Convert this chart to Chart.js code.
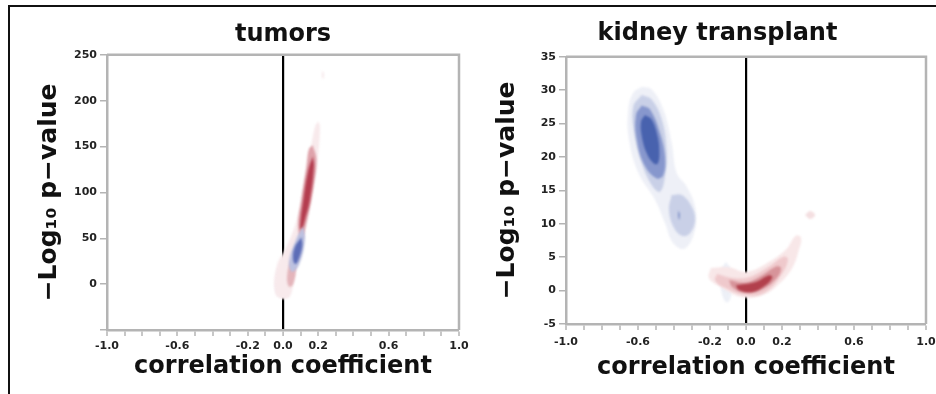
<!DOCTYPE html>
<html>
<head>
<meta charset="utf-8">
<script src="https://cdn.jsdelivr.net/npm/chart.js@4.4.1/dist/chart.umd.min.js"></script>
<style>
  html, body { margin: 0; padding: 0; background: #fff; overflow: hidden; }
  #frame { position: absolute; left: 8px; top: 5px; width: 940px; height: 400px;
           border-left: 2px solid #111; border-top: 2px solid #111; }
  canvas { position: absolute; top: 8px; }
  #tumors { left: 10px; }
  #kidney { left: 468px; }
</style>
</head>
<body>
<div id="frame"></div>
<canvas id="tumors" width="480" height="386"></canvas>
<canvas id="kidney" width="480" height="386"></canvas>
<script>
// tick labels
const xTickLabels = [-1.0, -0.6, -0.2, 0.0, 0.2, 0.6, 1.0];
const tumorsYTicks = [0, 50, 100, 150, 200, 250];
const kidneyYTicks = [-5, 0, 5, 10, 15, 20, 25, 30, 35];

// density contours, [correlation, -log10 p]
const tumorsLavender = [[-0.028, 19.1], [0.017, 18.0], [0.034, -6.0], [0.0, -14.7], [-0.040, -8.2], [-0.040, 7.1]];
const tumorsRedFaint = [[0.201, 177.3], [0.210, 171.9], [0.201, 143.2], [0.182, 117.4], [0.144, 73.9], [0.106, 41.2],
  [0.068, 12.5], [0.040, -13.3], [-0.006, -15.8], [-0.045, -9.3], [-0.036, 19.4], [0.021, 41.2],
  [0.078, 70.3], [0.115, 106.5], [0.153, 142.9], [0.182, 171.9]];
const tumorsRedMid = [[0.169, 151.5], [0.190, 136.0], [0.174, 106.5], [0.137, 70.3], [0.106, 50.5],
  [0.085, 63.0], [0.104, 92.0], [0.133, 128.3], [0.148, 147.5]];
const tumorsRedCore = [[0.169, 139.2], [0.176, 128.3], [0.153, 92.0], [0.125, 70.3], [0.106, 59.4],
  [0.097, 63.0], [0.115, 92.0], [0.144, 124.7]];
const tumorsRedLow = [[0.057, 26.7], [0.074, 18.0], [0.057, -0.5], [0.034, -2.7], [0.023, 7.1], [0.040, 23.4]];
const tumorsBlueHalo = [[0.115, 63.0], [0.125, 48.5], [0.091, 21.2], [0.051, 13.6], [0.034, 24.5], [0.074, 48.5]];
const tumorsBlueCore = [[0.104, 51.0], [0.110, 42.0], [0.086, 25.5], [0.070, 22.0], [0.057, 27.5], [0.066, 40.0]];
const tumorsSpeck = [[0.224, 232], [0.230, 231], [0.230, 224], [0.224, 225]];

const kidneyBlueFaint = [[-0.579, 30.5], [-0.524, 30.1], [-0.459, 27.1], [-0.413, 22.1], [-0.385, 17.6],
  [-0.330, 15.6], [-0.283, 12.6], [-0.283, 9.1], [-0.339, 6.3], [-0.404, 7.1], [-0.450, 10.1],
  [-0.506, 13.6], [-0.598, 17.6], [-0.650, 22.6], [-0.654, 27.1], [-0.626, 29.6]];
const kidneyBlueLight = [[-0.579, 29.3], [-0.524, 28.6], [-0.468, 25.6], [-0.441, 21.1], [-0.450, 17.1],
  [-0.478, 14.8], [-0.524, 15.8], [-0.579, 19.1], [-0.621, 23.6], [-0.626, 27.6]];
const kidneyBlueLobe = [[-0.413, 14.3], [-0.357, 14.3], [-0.302, 12.6], [-0.283, 10.6], [-0.311, 8.6],
  [-0.357, 8.2], [-0.404, 9.6], [-0.428, 12.1]];
const kidneyBlueMid = [[-0.579, 27.7], [-0.533, 27.1], [-0.478, 23.6], [-0.450, 20.1], [-0.459, 17.3],
  [-0.496, 16.8], [-0.561, 18.6], [-0.607, 22.6], [-0.611, 26.3]];
const kidneyBlueCore = [[-0.561, 26.3], [-0.524, 25.6], [-0.491, 23.1], [-0.481, 20.6], [-0.491, 19.0],
  [-0.515, 19.1], [-0.552, 20.6], [-0.579, 23.1], [-0.583, 25.3]];
const kidneyBlueSpeck = [[-0.374, 12.0], [-0.369, 11.5], [-0.371, 10.6], [-0.376, 11.2]];
const kidneyBlueSmall = [[-0.111, 4.3], [-0.088, 3.4], [-0.075, 1.3], [-0.083, -0.9], [-0.105, -1.8],
  [-0.130, -0.9], [-0.142, 1.3], [-0.133, 3.4]];
const kidneyRedFaint = [[-0.196, 3.4], [-0.094, 3.5], [-0.002, 2.8], [0.109, 4.0], [0.221, 6.1], [0.276, 8.2],
  [0.306, 7.9], [0.294, 6.1], [0.257, 3.4], [0.183, 1.0], [0.091, -0.7], [-0.021, -1.0],
  [-0.150, 0.7], [-0.206, 1.9]];
const kidneyRedLight = [[-0.161, 2.5], [-0.076, 1.9], [0.017, 2.0], [0.128, 3.6], [0.211, 5.1], [0.233, 4.7],
  [0.202, 2.6], [0.109, -0.2], [-0.002, -0.7], [-0.132, 0.6], [-0.172, 1.6]];
const kidneyRedMid = [[-0.094, 1.6], [-0.002, 1.2], [0.091, 2.3], [0.167, 3.6], [0.194, 3.4], [0.174, 2.0],
  [0.091, 0.2], [-0.002, -0.3], [-0.076, 0.5]];
const kidneyRedCore = [[-0.056, 0.8], [0.054, 1.3], [0.128, 2.3], [0.146, 2.0], [0.109, 0.8], [0.035, -0.2],
  [-0.039, 0.1]];
const kidneyRedDot = [[0.328, 11.3], [0.356, 11.9], [0.384, 11.3], [0.356, 10.7]];

const FONT = "'DejaVu Sans', Verdana, sans-serif";
const GRAY = '#b4b4b4';
Chart.defaults.font.family = FONT;

function blob(points, color) {
  const closed = points.concat([points[0]]);
  return {
    data: closed.map(p => ({ x: p[0], y: p[1] })),
    backgroundColor: color,
    borderWidth: 0,
    pointRadius: 0,
    fill: 'shape',
    tension: 0.4
  };
}

// soften contour edges like the original rendering
const softEdges = {
  id: 'softEdges',
  beforeDatasetsDraw(chart, args, opts) { chart.ctx.save(); chart.ctx.filter = 'blur(' + opts.blur + 'px)'; },
  afterDatasetsDraw(chart) { chart.ctx.restore(); }
};

// top and right sides of the plot box
const frameBox = {
  id: 'frameBox',
  afterDraw(chart) {
    const { ctx, chartArea: a } = chart;
    ctx.save();
    ctx.strokeStyle = GRAY;
    ctx.lineWidth = 2.5;
    ctx.beginPath();
    ctx.moveTo(a.left, a.top);
    ctx.lineTo(a.right, a.top);
    ctx.lineTo(a.right, a.bottom);
    ctx.stroke();
    ctx.restore();
  }
};

function xLabel(v) {
  const k = Math.round(v * 10);
  if (!xTickLabels.some(t => Math.round(t * 10) === k)) return '';
  return (k < 0 ? '-' : '') + Math.abs(k / 10).toFixed(1);
}

function makeChart(id, cfg) {
  const tickFont = { size: 11, weight: 'bold' };
  return new Chart(document.getElementById(id), {
    type: 'line',
    data: { datasets: cfg.layers.map(l => blob(l[0], l[1])).reverse() },
    options: {
      responsive: false,
      animation: false,
      events: [],
      layout: { padding: { left: cfg.padLeft, right: cfg.padRight, top: 0, bottom: 0 } },
      plugins: {
        legend: { display: false },
        tooltip: { enabled: false },
        softEdges: { blur: cfg.blur },
        title: {
          display: true, text: cfg.title, color: '#111', fullSize: cfg.titleFull,
          font: { size: 24, weight: 'bold' }, padding: cfg.titlePad
        }
      },
      scales: {
        x: {
          type: 'linear', min: -1, max: 1, z: 1,
          ticks: { stepSize: 0.1, autoSkip: false, maxRotation: 0, padding: cfg.xTickPad,
                   color: '#222', font: tickFont, callback: xLabel },
          grid: {
            drawOnChartArea: true, tickLength: 6, tickColor: GRAY, tickWidth: 1.5,
            color: c => (c.tick && Math.abs(c.tick.value) < 1e-9) ? '#000' : 'rgba(0,0,0,0)',
            lineWidth: c => (c.tick && Math.abs(c.tick.value) < 1e-9) ? 2.2 : 0
          },
          border: { color: GRAY, width: 2.5 },
          title: { display: true, text: 'correlation coefficient', color: '#111',
                   font: { size: 24, weight: 'bold' }, padding: { top: 0, bottom: cfg.xTitlePad } },
          afterFit: s => { s.height = cfg.xHeight; }
        },
        y: {
          type: 'linear', min: cfg.yMin, max: cfg.yMax,
          ticks: { stepSize: cfg.yStep, padding: 3, color: '#222', font: tickFont,
                   callback: v => cfg.yTicks.includes(v) ? String(v) : '' },
          grid: { drawOnChartArea: false, tickLength: 7, color: GRAY, lineWidth: 1.5 },
          border: { color: GRAY, width: 2.5 },
          title: { display: true, text: '\u2212Log\u2081\u2080 p\u2212value', color: '#111',
                   font: { size: 25, weight: 'bold' }, padding: { top: cfg.yTitleTop, bottom: 0 } },
          afterFit: s => { s.width = cfg.yWidth; }
        }
      }
    },
    plugins: [softEdges, frameBox]
  });
}

makeChart('tumors', {
  title: 'tumors', titleFull: false, blur: 1.3,
  titlePad: { top: 12, bottom: 6 },
  padLeft: 0, padRight: 31, xHeight: 64, yWidth: 97, yTitleTop: 24,
  xTickPad: 4, xTitlePad: 13,
  yMin: -50, yMax: 250, yStep: 50, yTicks: tumorsYTicks,
  layers: [
    [tumorsLavender, '#f1edf4'],
    [tumorsRedFaint, '#f8eaec'],
    [tumorsRedMid, '#dfa3ab'],
    [tumorsRedCore, '#b43d4f'],
    [tumorsRedLow, '#e4b5bb'],
    [tumorsBlueHalo, '#bcc1e0'],
    [tumorsBlueCore, '#5c6db7'],
    [tumorsSpeck, '#f3e0e3']
  ]
});

makeChart('kidney', {
  title: 'kidney transplant', titleFull: true, blur: 0.9,
  titlePad: { top: 11, bottom: 9 },
  padLeft: 41, padRight: 22, xHeight: 70, yWidth: 57, yTitleTop: -16.5,
  xTickPad: 6, xTitlePad: 12,
  yMin: -5, yMax: 35, yStep: 5, yTicks: kidneyYTicks,
  layers: [
    [kidneyBlueFaint, '#eef0f7'],
    [kidneyBlueLight, '#c9d0e7'],
    [kidneyBlueLobe, '#c9d0e7'],
    [kidneyBlueMid, '#8797cd'],
    [kidneyBlueCore, '#4862ae'],
    [kidneyBlueSpeck, '#6c80c0'],
    [kidneyBlueSmall, '#edf0f7'],
    [kidneyRedFaint, '#f8e7e8'],
    [kidneyRedLight, '#efc9cc'],
    [kidneyRedMid, '#d7949a'],
    [kidneyRedCore, '#b2404c'],
    [kidneyRedDot, '#f4dfe1']
  ]
});
</script>
</body>
</html>
